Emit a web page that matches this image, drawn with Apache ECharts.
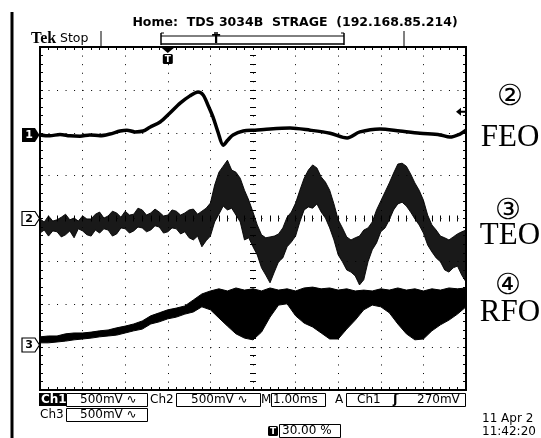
<!DOCTYPE html>
<html><head><meta charset="utf-8">
<script src="https://cdn.jsdelivr.net/npm/echarts@6/dist/echarts.min.js"></script>
<style>html,body{margin:0;padding:0;background:#fff}#c{width:541px;height:438px}</style>
</head><body><div id="c"></div>
<script>
// ---- data (time in ms = divisions, vertical in screen divisions) ----
const ch1Time = [0.00,0.23,0.47,0.70,0.94,1.17,1.41,1.64,1.88,2.04,2.23,2.42,2.58,2.82,3.05,3.29,3.52,3.71,3.83,3.94,4.06,4.18,4.30,4.41,4.53,4.77,5.05,5.40,5.87,6.34,6.81,7.21,7.51,7.98,8.45,8.92,9.39,9.62,9.86,10.00];
const ch1Value = [1.95,1.93,1.96,1.93,1.92,1.95,1.93,1.97,2.04,2.06,2.02,2.04,2.13,2.25,2.46,2.69,2.86,2.95,2.88,2.65,2.37,2.01,1.71,1.83,1.95,2.04,2.06,2.09,2.11,2.06,1.99,1.88,2.02,2.09,2.04,1.99,1.95,1.90,1.97,2.06];

const teoTime = [0,0.1,0.2,0.3,0.4,0.5,0.6,0.7,0.8,0.9,1,1.1,1.2,1.3,1.4,1.5,1.6,1.7,1.8,1.9,2,2.1,2.2,2.3,2.4,2.5,2.6,2.7,2.8,2.9,3,3.1,3.2,3.3,3.4,3.5,3.6,3.7,3.8,3.9,4,4.1,4.2,4.3,4.4,4.5,4.6,4.7,4.8,4.9,5,5.1,5.2,5.3,5.4,5.5,5.6,5.7,5.8,5.9,6,6.1,6.2,6.3,6.4,6.5,6.6,6.7,6.8,6.9,7,7.1,7.2,7.3,7.4,7.5,7.6,7.7,7.8,7.9,8,8.1,8.2,8.3,8.4,8.5,8.6,8.7,8.8,8.9,9,9.1,9.2,9.3,9.4,9.5,9.6,9.7,9.8,9.9,10];
const teoTop = [-0.01,-0.08,0.06,-0.06,-0.03,0.03,0.10,-0.03,0.01,-0.06,
 0.06,-0.01,-0.01,0.10,0.15,0.01,0.06,0.17,0.13,0.03,
 0.17,0.08,0.10,0.24,0.20,0.08,0.13,0.22,0.15,0.06,
 0.08,0.20,0.17,0.08,0.13,0.20,0.22,0.10,0.17,0.24,
 0.36,0.78,1.08,1.22,1.36,1.13,1.08,0.94,0.66,0.43,
 0.15,-0.15,-0.38,-0.45,-0.43,-0.41,-0.36,-0.22,0.03,0.15,
 0.36,0.66,0.94,1.13,1.25,1.18,0.97,0.85,0.66,0.34,
 -0.03,-0.22,-0.43,-0.50,-0.45,-0.41,-0.27,-0.22,-0.08,0.20,
 0.41,0.62,0.83,1.06,1.27,1.29,1.22,1.04,0.83,0.66,
 0.43,0.08,-0.15,-0.27,-0.41,-0.45,-0.50,-0.43,-0.36,-0.31,
 -0.27];
const teoBottom = [-0.34,-0.27,-0.41,-0.29,-0.31,-0.43,-0.38,-0.29,-0.45,-0.24,
 -0.29,-0.38,-0.41,-0.27,-0.34,-0.24,-0.27,-0.41,-0.36,-0.22,
 -0.24,-0.34,-0.29,-0.20,-0.22,-0.31,-0.27,-0.17,-0.20,-0.34,
 -0.31,-0.22,-0.24,-0.36,-0.31,-0.45,-0.50,-0.41,-0.66,-0.52,
 -0.41,-0.08,0.10,0.29,0.20,0.24,0.08,-0.08,-0.50,-0.45,
 -0.66,-0.85,-1.15,-1.32,-1.50,-1.25,-1.01,-0.92,-0.66,-0.55,
 -0.41,-0.08,0.20,0.27,0.24,0.34,0.15,0.01,-0.22,-0.50,
 -0.85,-1.01,-1.20,-1.25,-1.34,-1.55,-1.43,-1.01,-0.73,-0.57,
 -0.31,-0.22,-0.03,0.20,0.34,0.38,0.29,0.15,-0.01,-0.15,
 -0.34,-0.62,-0.78,-0.92,-1.01,-1.20,-1.25,-1.15,-1.11,-1.32,
 -1.48];

const rfoTime = [0,0.2,0.4,0.6,0.8,1,1.2,1.4,1.6,1.8,2,2.2,2.4,2.6,2.8,3,3.2,3.4,3.6,3.8,4,4.2,4.4,4.6,4.8,5,5.2,5.4,5.6,5.8,6,6.2,6.4,6.6,6.8,7,7.2,7.4,7.6,7.8,8,8.2,8.4,8.6,8.8,9,9.2,9.4,9.6,9.8,10];
const rfoTop = [-2.76,-2.74,-2.74,-2.69,-2.67,-2.67,-2.65,-2.62,-2.60,-2.55,
 -2.51,-2.46,-2.39,-2.27,-2.20,-2.13,-2.09,-2.04,-1.90,-1.76,
 -1.69,-1.64,-1.69,-1.62,-1.67,-1.64,-1.69,-1.62,-1.67,-1.64,
 -1.69,-1.62,-1.60,-1.64,-1.62,-1.67,-1.64,-1.69,-1.67,-1.69,
 -1.64,-1.67,-1.62,-1.67,-1.64,-1.69,-1.64,-1.67,-1.62,-1.64,
 -1.62];
const rfoBottom = [-2.90,-2.90,-2.88,-2.86,-2.83,-2.81,-2.79,-2.76,-2.74,-2.72,
 -2.67,-2.62,-2.58,-2.46,-2.41,-2.34,-2.30,-2.23,-2.18,-2.06,
 -2.13,-2.32,-2.51,-2.69,-2.79,-2.83,-2.65,-2.30,-2.02,-1.99,
 -2.27,-2.44,-2.53,-2.67,-2.81,-2.81,-2.58,-2.37,-2.13,-2.02,
 -2.06,-2.20,-2.46,-2.69,-2.83,-2.81,-2.62,-2.48,-2.37,-2.23,
 -2.06];

// channel ground markers (divisions), trigger settings
const channelOffsets = [1.95, 0, -2.95];
const channelNames = ['1', '2', '3'];
const triggerPositionPct = 30;
const triggerLevelV = 0.27;
const ch1VoltsPerDiv = 0.5;

// ---- chart ----
const chart = echarts.init(document.getElementById('c'));
const BLACK = '#000';

function mkAxis(dim, position, offset, inside, split, splitDash) {
  return {
    type: 'value', position: position, offset: offset,
    min: dim === 'x' ? 0 : -4, max: dim === 'x' ? 10 : 4, interval: 1,
    axisLine: { show: false, onZero: false },
    axisTick: { show: true, inside: inside, length: 3, lineStyle: { color: BLACK, width: 1 } },
    minorTick: { show: true, splitNumber: 5, length: 3, lineStyle: { color: BLACK, width: 1 } },
    axisLabel: { show: false },
    splitLine: { show: split, lineStyle: { color: BLACK, width: 1, type: splitDash || 'solid' } },
    minorSplitLine: { show: false }
  };
}

function band(timeArr, topArr, botArr, opacity) {
  return {
    type: 'custom', xAxisIndex: 0, yAxisIndex: 0, clip: true, silent: true,
    data: [[0, 0]], encode: { x: 0, y: 1 }, z: 4,
    renderItem: function (params, api) {
      const pts = [];
      for (let i = 0; i < timeArr.length; i++) pts.push(api.coord([timeArr[i], topArr[i]]));
      for (let i = timeArr.length - 1; i >= 0; i--) pts.push(api.coord([timeArr[i], botArr[i]]));
      return { type: 'polygon', shape: { points: pts },
        style: { fill: BLACK, opacity: opacity, stroke: BLACK, lineWidth: 1 } };
    }
  };
}

chart.setOption({
  animation: false,
  backgroundColor: '#fff',
  grid: { left: 40, top: 47, width: 426, height: 343, show: true, borderColor: BLACK, borderWidth: 2,
          backgroundColor: 'rgba(0,0,0,0)', outerBoundsMode: 'none', containLabel: false },
  xAxis: [
    mkAxis('x', 'bottom', 0, true, true, [1, 7.58]),
    mkAxis('x', 'top', 0, true, false),
    mkAxis('x', 'bottom', -171.5, true, false),
    mkAxis('x', 'bottom', -171.5, false, false)
  ],
  yAxis: [
    mkAxis('y', 'left', 0, true, true, [1, 7.52]),
    mkAxis('y', 'right', 0, true, false),
    mkAxis('y', 'left', -213, true, false),
    mkAxis('y', 'left', -213, false, false)
  ],
  series: [
    { type: 'line', name: 'FEO', xAxisIndex: 0, yAxisIndex: 0, showSymbol: false, smooth: 0.3, z: 5,
      data: ch1Time.map((t, i) => [t, ch1Value[i]]), lineStyle: { color: BLACK, width: 3.5 } },
    band(teoTime, teoTop, teoBottom, 0.9),
    band(rfoTime, rfoTop, rfoBottom, 1)
  ]
});

// ---- annotations ----
const toPx = (x, y) => chart.convertToPixel({ gridIndex: 0 }, [x, y]);
const SANS = '"DejaVu Sans", sans-serif';
const g = [];
function txt(x, y, s, font, align, color) {
  g.push({ type: 'text', x: x, y: y, z: 100,
    style: { text: s, font: font, fill: color || BLACK, textAlign: align || 'left', textVerticalAlign: 'middle' } });
}
function rect(x, y, w, h, fill, stroke, r) {
  g.push({ type: 'rect', z: 99, shape: { x: x, y: y, width: w, height: h, r: r || 0 },
    style: { fill: fill || 'none', stroke: stroke || null, lineWidth: 1 } });
}
function line(x1, y1, x2, y2, w) {
  g.push({ type: 'line', z: 99, shape: { x1: x1, y1: y1, x2: x2, y2: y2 }, style: { stroke: BLACK, lineWidth: w || 1 } });
}
function tIcon(cx, cy, s) {
  rect(cx - s / 2, cy - s / 2, s, s, BLACK, null, 1.5);
  txt(cx, cy + 0.5, 'T', 'bold 9px ' + SANS, 'center', '#fff');
}

// left frame bar
rect(10.5, 12, 3, 426, BLACK);
// title
txt(295, 23, 'Home:  TDS 3034B  STRAGE  (192.168.85.214)', 'bold 12.5px ' + SANS, 'center');
txt(31, 39, 'Tek', 'bold 16px "Liberation Serif", serif', 'left');
txt(60, 39, 'Stop', '12.5px ' + SANS, 'left');
// record bar
line(101, 31, 101, 46, 1);
line(404, 31, 404, 46, 1);
line(161, 36, 344, 36, 1);
line(161, 44, 344, 44, 1.5);
line(161, 33, 161, 45, 1.5);
line(344, 33, 344, 45, 1.5);
line(161, 33, 164, 33, 1);
line(341, 33, 344, 33, 1);
txt(216, 40, 'T', 'bold 12px ' + SANS, 'center');
line(214, 33, 218, 33, 1.5);

// trigger position marker
const tp = toPx(10 * triggerPositionPct / 100, 4);
g.push({ type: 'polygon', z: 99, shape: { points: [[tp[0] - 6, tp[1] + 1], [tp[0] + 6, tp[1] + 1], [tp[0], tp[1] + 6]] }, style: { fill: BLACK } });
tIcon(tp[0], tp[1] + 12, 10);

// trigger level arrow
const tl = toPx(10, channelOffsets[0] + triggerLevelV / ch1VoltsPerDiv);
g.push({ type: 'polygon', z: 99, shape: { points: [[tl[0] - 10, tl[1]], [tl[0] - 5, tl[1] - 4], [tl[0] - 5, tl[1] + 4]] }, style: { fill: BLACK } });
line(tl[0] - 6, tl[1], tl[0] - 1, tl[1], 2);

// channel ground markers
channelOffsets.forEach((off, i) => {
  const y = toPx(0, off)[1];
  const pts = [[22, y - 7], [35, y - 7], [39.5, y], [35, y + 7], [22, y + 7]];
  if (i === 0) {
    g.push({ type: 'polygon', z: 99, shape: { points: pts }, style: { fill: BLACK } });
    txt(29, y + 0.5, channelNames[i], 'bold 11px ' + SANS, 'center', '#fff');
  } else {
    g.push({ type: 'polygon', z: 99, shape: { points: pts }, style: { fill: '#fff', stroke: BLACK, lineWidth: 1.2 } });
    txt(29, y + 0.5, channelNames[i], 'bold 11px ' + SANS, 'center');
  }
});

// right-side signal names
const SERIF = '"Liberation Serif", "DejaVu Serif", serif';
const CIRC = '29px "DejaVu Serif", "DejaVu Sans", "Noto Sans CJK JP"';
txt(510, 97, '②', CIRC, 'center');
txt(510, 138, 'FEO', '31px ' + SERIF, 'center');
txt(508, 211, '③', CIRC, 'center');
txt(510, 236, 'TEO', '31px ' + SERIF, 'center');
txt(508, 286, '④', CIRC, 'center');
txt(510, 313, 'RFO', '31px ' + SERIF, 'center');

// bottom readout
const F = '12px ' + SANS;
rect(39, 393, 27, 13, BLACK);
txt(41, 400, 'Ch1', 'bold 12px ' + SANS, 'left', '#fff');
rect(66.5, 393.5, 81, 13, null, BLACK);
txt(80, 400, '500mV ∿', F);
txt(150, 400, 'Ch2', F);
rect(176.5, 393.5, 84, 13, null, BLACK);
txt(191, 400, '500mV ∿', F);
txt(261, 400, 'M', F);
rect(271.5, 393.5, 54, 13, null, BLACK);
txt(273, 400, '1.00ms', F);
txt(335, 400, 'A', F);
rect(346.5, 393.5, 119, 13, null, BLACK);
txt(357, 400, 'Ch1', F);
txt(393, 400, 'ʃ', 'bold 13px ' + SANS);
txt(417, 400, '270mV', F);
txt(40, 415, 'Ch3', F);
rect(66.5, 408.5, 81, 13, null, BLACK);
txt(80, 415, '500mV ∿', F);
tIcon(273, 431, 10);
rect(279.5, 424.5, 61, 13, null, BLACK);
txt(282, 431, '30.00 %', F);
txt(482, 419, '11 Apr 2', F);
txt(482, 432, '11:42:20', F);

chart.setOption({ graphic: g });
</script></body></html>
